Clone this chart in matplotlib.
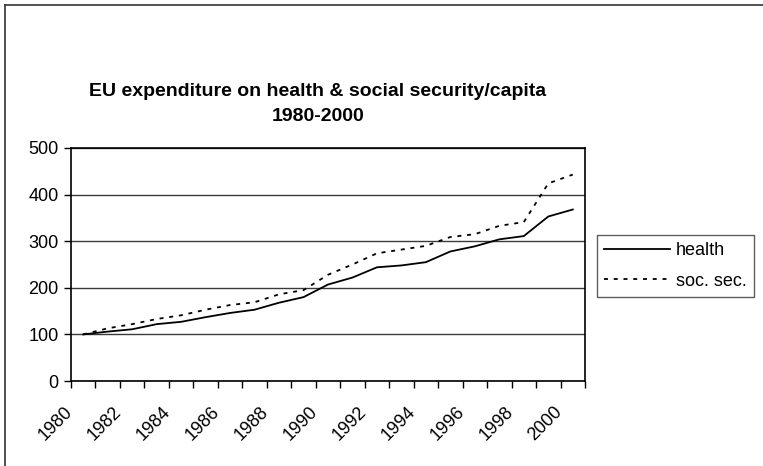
import matplotlib
matplotlib.use("Agg")
import matplotlib.pyplot as plt
import numpy as np
from matplotlib.lines import Line2D
import matplotlib.transforms as mtransforms

plt.rcParams['font.family'] = ['Liberation Sans', 'DejaVu Sans']

# data
years = list(range(1980, 2001))
health = [100, 106, 111, 122, 127, 137, 146, 153, 168, 180, 207,
          222, 244, 248, 255, 278, 289, 304, 311, 353, 368]
soc_sec = [100, 113, 122, 133, 141, 153, 163, 169, 186, 195, 228,
           250, 274, 282, 290, 309, 315, 333, 341, 424, 443]
y_ticks = [0, 100, 200, 300, 400, 500]
title = "EU expenditure on health & social security/capita\n1980-2000"

W, H = 763, 466
fig = plt.figure(figsize=(W / 100, H / 100), dpi=100)

# plot area in pixels: left 71, right 585, top 148, bottom 381
ax = fig.add_axes([71 / W, 1 - 381 / H, (585 - 71) / W, (381 - 148) / H])
x = np.arange(len(years))

dash = (0, (2.2, 3.2))
ax.plot(x, health, color='black', lw=1.3, label='health')
ax.plot(x, soc_sec, color='black', lw=1.3, linestyle=dash, label='soc. sec.')

ax.set_xlim(-0.5, len(years) - 0.5)
ax.set_ylim(0, 500)
ax.set_yticks(y_ticks)
ax.yaxis.grid(True, color='#3a3a3a', lw=1.0)
ax.set_axisbelow(True)
ax.tick_params(axis='y', length=5, width=1, labelsize=13, pad=4)

# ticks between categories, labels on every second year
ax.set_xticks(np.arange(len(years) + 1) - 0.5)
ax.set_xticklabels([])
ax.tick_params(axis='x', length=5, width=1)
offset = mtransforms.ScaledTranslation(-7 / 100, -22 / 100, fig.dpi_scale_trans)
for i, yr in enumerate(years):
    if i % 2 == 0:
        ax.text(i, 0, str(yr), rotation=45, ha='right', va='top', fontsize=13,
                transform=ax.get_xaxis_transform() + offset)

for s in ax.spines.values():
    s.set_linewidth(1.2)
    s.set_color('black')

fig.text(318 / W, 1 - 104 / H, title, ha='center', va='center', fontsize=14,
         fontweight='bold', linespacing=1.55)

# legend box on the right
leg_handles = [Line2D([], [], color='black', lw=1.3),
               Line2D([], [], color='black', lw=1.3, linestyle=dash)]
leg = fig.legend(leg_handles, ['health', 'soc. sec.'],
                 loc='center left', bbox_to_anchor=(597 / W, 1 - 266 / H),
                 frameon=True, fancybox=False, fontsize=13, handlelength=3.65,
                 handletextpad=0.3, borderpad=0.4, labelspacing=0.75,
                 borderaxespad=0)
leg.get_frame().set_edgecolor('#333333')
leg.get_frame().set_linewidth(1.0)

# outer chart border (cropped on right and bottom)
fig.add_artist(Line2D([5 / W, 5 / W], [0, 1 - 5 / H], color='#333333', lw=1.2,
                      transform=fig.transFigure))
fig.add_artist(Line2D([5 / W, 1], [1 - 5 / H, 1 - 5 / H], color='#333333', lw=1.2,
                      transform=fig.transFigure))

fig.savefig('out.png', dpi=100)
